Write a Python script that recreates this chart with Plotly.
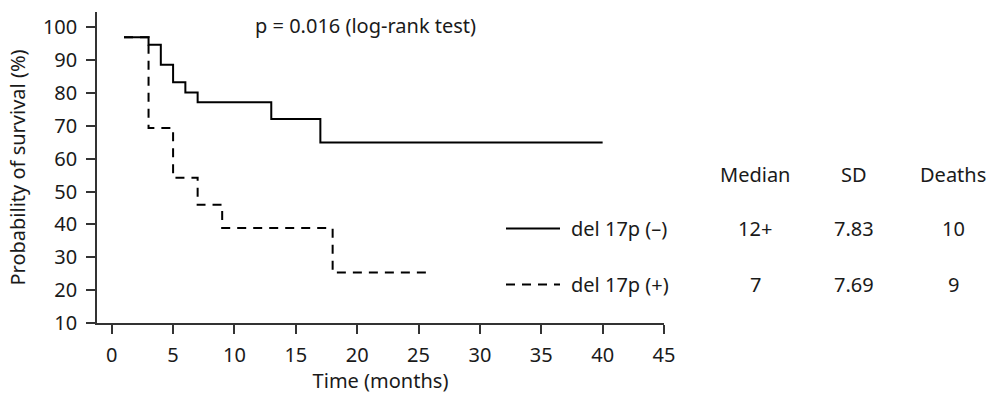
import plotly.graph_objects as go

# Kaplan-Meier step data (time in months, survival %)
neg_time = [1, 3, 4, 5, 6, 7, 13, 17, 40]
neg_surv = [97, 94.7, 88.6, 83.3, 80.2, 77.2, 72.1, 65.0, 65.0]
pos_time = [1, 3, 5, 7, 9, 18, 25.7]
pos_surv = [97, 69.4, 54.2, 46.0, 38.9, 25.4, 25.4]

groups = ["del 17p (–)", "del 17p (+)"]
medians = ["12+", "7"]
sds = ["7.83", "7.69"]
deaths = ["10", "9"]
headers = ["Median", "SD", "Deaths"]

x_ticks = list(range(0, 46, 5))
y_ticks = list(range(10, 101, 10))

W, H = 990, 394
L, R, T, B = 97, 326, 12, 71
FONT = "Noto Sans"
FS = 20
TXT = "#1a1a1a"

def px(xp):
    return (xp - L) / (W - L - R)

def py(yp):
    return (H - B - yp) / (H - B - T)

fig = go.Figure()
fig.add_trace(go.Scatter(x=neg_time, y=neg_surv, mode="lines", line_shape="hv",
                         line=dict(color="black", width=2), showlegend=False))
fig.add_trace(go.Scatter(x=pos_time, y=pos_surv, mode="lines", line_shape="hv",
                         line=dict(color="black", width=2, dash="9px,7px"), showlegend=False))

# legend-like table
row_y = [228.5, 284.5]
dashes = ["solid", "9px,7px"]
for i in range(2):
    fig.add_shape(type="line", xref="paper", yref="paper",
                  x0=px(506), x1=px(560), y0=py(row_y[i]), y1=py(row_y[i]),
                  line=dict(color="black", width=2, dash=dashes[i]))
    fig.add_annotation(xref="paper", yref="paper", x=px(569), y=py(row_y[i]),
                       text=groups[i], showarrow=False, xanchor="left", yanchor="middle",
                       font=dict(family=FONT, size=FS, color=TXT))
    for cx, vals in zip([755, 854, 953], [medians, sds, deaths]):
        fig.add_annotation(xref="paper", yref="paper", x=px(cx), y=py(row_y[i]),
                           text=vals[i], showarrow=False, xanchor="center", yanchor="middle",
                           font=dict(family=FONT, size=FS, color=TXT))
for cx, h in zip([755, 854, 953], headers):
    fig.add_annotation(xref="paper", yref="paper", x=px(cx), y=py(174),
                       text=h, showarrow=False, xanchor="center", yanchor="middle",
                       font=dict(family=FONT, size=FS, color=TXT))

fig.add_annotation(xref="paper", yref="paper", x=px(253), y=py(25),
                   text="p = 0.016 (log-rank test)", showarrow=False,
                   xanchor="left", yanchor="middle",
                   font=dict(family=FONT, size=FS, color=TXT))

axis_common = dict(showline=True, linecolor="#333333", linewidth=1.5, ticks="outside",
                   ticklen=9, tickwidth=1.5, tickcolor="#333333", showgrid=False,
                   zeroline=False, automargin=False,
                   tickfont=dict(family=FONT, size=FS, color=TXT))
fig.update_xaxes(range=[-1.2, 45], tickvals=x_ticks, ticktext=[str(v) for v in x_ticks],
                 ticklabelstandoff=4,
                 title=dict(text="Time (months)", font=dict(family=FONT, size=FS, color=TXT), standoff=12),
                 **axis_common)
fig.update_yaxes(range=[10, 104.7], tickvals=y_ticks, ticktext=[str(v) for v in y_ticks],
                 ticklabelstandoff=5,
                 title=dict(text="Probability of survival (%)", font=dict(family=FONT, size=FS, color=TXT), standoff=12),
                 **axis_common)

fig.update_layout(width=W, height=H, margin=dict(l=L, r=R, t=T, b=B),
                  plot_bgcolor="white", paper_bgcolor="white",
                  font=dict(family=FONT, size=FS, color=TXT))
fig.write_html("out.html")
